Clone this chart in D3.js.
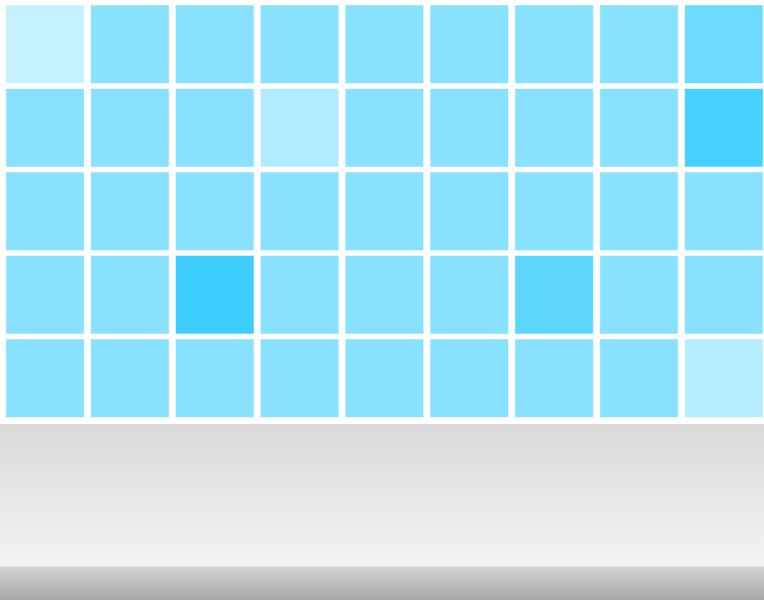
<!DOCTYPE html>
<html lang="en">
<head>
    <meta charset="UTF-8">
    <style>
        body {margin: 0; background: #ffffff;}
        svg {display: block;}
    </style>
</head>
<body>
<div id="chart"></div>

<script src="https://d3js.org/d3.v7.min.js"></script>
<script>

// grid categories
var columns = ["c1", "c2", "c3", "c4", "c5", "c6", "c7", "c8", "c9"];
var rows = ["r1", "r2", "r3", "r4", "r5"];

// cell values, one list per row (0 = white, 100 = full blue)
var row1 = [23, 47, 47, 47, 47, 47, 47, 47, 58];
var row2 = [47, 47, 47, 31, 47, 47, 47, 47, 73];
var row3 = [47, 47, 47, 47, 47, 47, 47, 47, 47];
var row4 = [47, 47, 76, 47, 47, 47, 63, 47, 47];
var row5 = [47, 47, 47, 47, 47, 47, 47, 47, 29];
var rowValues = [row1, row2, row3, row4, row5];

var width = 764;
var height = 600;

var svg = d3.select("#chart")
    .append("svg")
    .attr("width", width)
    .attr("height", height);

// gradients for the floor below the grid
var defs = svg.append("defs");
var floorGrad = defs.append("linearGradient")
    .attr("id", "floor")
    .attr("x1", 0).attr("y1", 0).attr("x2", 0).attr("y2", 1);
floorGrad.append("stop").attr("offset", "0%").attr("stop-color", "#d9d9d9");
floorGrad.append("stop").attr("offset", "100%").attr("stop-color", "#f3f3f3");

var edgeGrad = defs.append("linearGradient")
    .attr("id", "edge")
    .attr("x1", 0).attr("y1", 0).attr("x2", 0).attr("y2", 1);
edgeGrad.append("stop").attr("offset", "0%").attr("stop-color", "#d4d4d4");
edgeGrad.append("stop").attr("offset", "100%").attr("stop-color", "#a8a8a8");

svg.append("rect")
    .attr("x", 0).attr("y", 424)
    .attr("width", width).attr("height", 142)
    .attr("fill", "url(#floor)");

svg.append("rect")
    .attr("x", 0).attr("y", 566)
    .attr("width", width).attr("height", 34)
    .attr("fill", "url(#edge)");

svg.append("line")
    .attr("x1", 0).attr("x2", width)
    .attr("y1", 566.5).attr("y2", 566.5)
    .attr("stroke", "#e2e2e2")
    .attr("stroke-width", 1);

// scales
var x = d3.scaleBand()
    .domain(columns)
    .range([5.8, 763.1])
    .paddingInner(0.075);

var y = d3.scaleBand()
    .domain(rows)
    .range([5, 417.5])
    .paddingInner(0.06);

var color = d3.scaleLinear()
    .domain([0, 100])
    .range(["#ffffff", "#00bfff"]);

// flatten into cells
var cells = [];
rowValues.forEach(function (vals, i) {
    vals.forEach(function (v, j) {
        cells.push({row: rows[i], col: columns[j], value: v});
    });
});

// draw the cells
svg.append("g")
    .selectAll("rect")
    .data(cells)
    .enter().append("rect")
    .attr("x", function (d) { return x(d.col); })
    .attr("y", function (d) { return y(d.row); })
    .attr("width", x.bandwidth())
    .attr("height", y.bandwidth())
    .attr("fill", function (d) { return color(d.value); })
    .attr("stroke", "#ffffff")
    .attr("stroke-opacity", 0.5)
    .attr("stroke-width", 1);

</script>
</body>
</html>
